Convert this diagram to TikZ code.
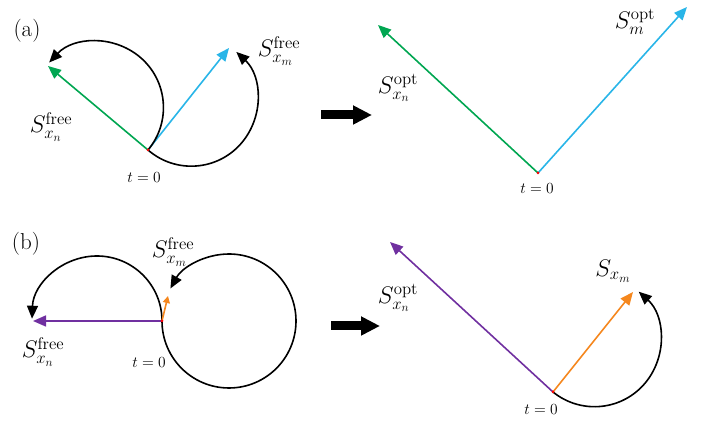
\RequirePackage{fix-cm}
\documentclass[tikz,border=0pt]{standalone}
\usetikzlibrary{arrows.meta}
\definecolor{vgreen}{RGB}{0,166,81}
\definecolor{vblue}{RGB}{41,181,232}
\definecolor{vpurple}{RGB}{112,48,160}
\definecolor{vorange}{RGB}{245,135,30}
\begin{document}
\begin{tikzpicture}[x=1pt,y=1pt,
  vec/.style={line width=1.6pt,-{Triangle[length=13pt,width=11pt]}},
  rot/.style={line width=1.6pt,black,-{Triangle[length=13pt,width=11pt]}},
  fat/.style={line width=9pt,-{Triangle[length=19pt,width=18pt]}},
  lab/.style={inner sep=0pt,font=\fontsize{24}{28}\selectfont},
  tlab/.style={inner sep=0pt,font=\fontsize{15.5}{18}\selectfont},
  plab/.style={inner sep=0pt,font=\fontsize{23}{26}\selectfont},
  orig/.style={circle,fill=red,inner sep=0pt,minimum size=3pt}]
\useasboundingbox (0,0) rectangle (716,422);
% ---------- (a) left
\node[plab] (pa) at (27,391) {(a)};
\coordinate (O1) at (148,272);
\coordinate (G1) at (48,356);
\coordinate (B1) at (229,374);
\draw[vec,vgreen] (O1) -- (G1);
\draw[vec,vblue] (O1) -- (B1);
\draw[rot] (O1) arc[start angle=-40,end angle=137,radius=66];
\draw[rot] (O1) arc[start angle=229,end angle=407,radius=66];
\node[orig] (o1) at (O1) {};
\node[lab] (l1) at (279,371) {$S_{x_m}^{\mathrm{free}}$};
\node[lab] (l2) at (51,295) {$S_{x_n}^{\mathrm{free}}$};
\node[tlab] (t1) at (144,244) {$t=0$};
% ---------- (a) right
\coordinate (O2) at (538,249);
\coordinate (G2) at (378,397);
\coordinate (B2) at (687,415);
\draw[vec,vgreen] (O2) -- (G2);
\draw[vec,vblue] (O2) -- (B2);
\node[orig] (o2) at (O2) {};
\node[lab] (l3) at (635,400) {$S_{m}^{\mathrm{opt}}$};
\node[lab] (l4) at (398,334) {$S_{x_n}^{\mathrm{opt}}$};
\node[tlab] (t2) at (537,233) {$t=0$};
\coordinate (FA1) at (321,307);
\coordinate (FA2) at (372,307);
\draw[fat] (FA1) -- (FA2);
% ---------- (b) left
\node[plab] (pb) at (26,178) {(b)};
\coordinate (O3) at (162,101);
\coordinate (P3) at (33,101);
\coordinate (R3) at (168,126);
\draw[rot] (O3) arc[start angle=180,end angle=511,radius=67];
\draw[rot] (O3) arc[start angle=0,end angle=178,radius=65];
\draw[vec,vpurple] (O3) -- (P3);
\draw[line width=1.6pt,vorange,-{Triangle[length=7pt,width=7pt]}] (O3) -- (R3);
\node[orig] (o3) at (O3) {};
\node[lab] (l5) at (173,170) {$S_{x_m}^{\mathrm{free}}$};
\node[lab] (l6) at (43,70) {$S_{x_n}^{\mathrm{free}}$};
\node[tlab] (t3) at (149,59) {$t=0$};
% ---------- (b) right
\coordinate (O4) at (553,30);
\coordinate (P4) at (390,180);
\coordinate (R4) at (633,130);
\draw[vec,vpurple] (O4) -- (P4);
\draw[vec,vorange] (O4) -- (R4);
\draw[rot] (O4) arc[start angle=231,end angle=408,radius=66];
\node[orig] (o4) at (O4) {};
\node[lab] (l7) at (613,151) {$S_{x_m}$};
\node[lab] (l8) at (398,124) {$S_{x_n}^{\mathrm{opt}}$};
\node[tlab] (t4) at (541,12) {$t=0$};
\coordinate (FB1) at (331,96);
\coordinate (FB2) at (380,96);
\draw[fat] (FB1) -- (FB2);
\end{tikzpicture}
\end{document}
